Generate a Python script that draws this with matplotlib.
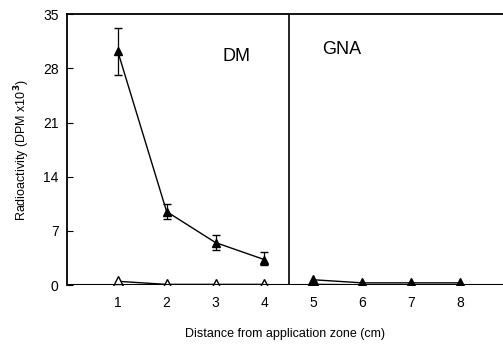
import matplotlib
matplotlib.use("Agg")
import matplotlib.pyplot as plt

# DM zone (1-4 cm), treated series (filled) and control (open)
dm_x = [1, 2, 3, 4]
dm_filled = [30.2, 9.5, 5.5, 3.3]
dm_err_hi = [3.0, 1.0, 1.0, 1.0]
dm_err_lo = [3.0, 1.0, 0.9, 0.7]
dm_open = [0.5, 0.1, 0.1, 0.1]

# GNA zone (5-8 cm)
gna_x = [5, 6, 7, 8]
gna_filled = [0.7, 0.3, 0.3, 0.3]
gna_open = [0.1, 0.05, 0.05, 0.05]

yticks = [0, 7, 14, 21, 28, 35]
xticks = [1, 2, 3, 4, 5, 6, 7, 8]

plt.rcParams["font.family"] = ["Liberation Sans", "DejaVu Sans"]

fig = plt.figure(figsize=(5.03, 3.44), dpi=100)
ax = fig.add_axes([0.133, 0.171, 0.867, 0.788])

ax.errorbar(dm_x, dm_filled, yerr=[dm_err_lo, dm_err_hi], color="black", lw=1.0,
            marker="^", ms=6, mfc="black", mec="black", capsize=3, elinewidth=0.9)
ax.plot(dm_x, dm_open, color="black", lw=1.0, marker="^", ms=7, mfc="white", mec="black")
ax.plot(gna_x, gna_open, color="black", lw=1.0)
ax.plot(gna_x, gna_filled, color="black", lw=1.0, marker="^", ms=7, mfc="black", mec="black")

ax.axvline(4.5, color="black", lw=1.2)
ax.axhline(0, color="black", lw=1.5)

ax.text(3.15, 29.0, "DM", fontsize=13)
ax.text(5.18, 29.8, "GNA", fontsize=13)

ax.set_xlim(-0.04, 8.88)
ax.set_ylim(0, 35)
ax.set_yticks(yticks)
ax.set_xticks(xticks)
ax.tick_params(axis="y", direction="in", length=4, labelsize=10, pad=6)
ax.tick_params(axis="x", length=0, labelsize=10, pad=8)

for s in ["right", "bottom"]:
    ax.spines[s].set_visible(False)
ax.spines["left"].set_linewidth(1.3)
ax.spines["top"].set_linewidth(1.3)

ax.set_ylabel("Radioactivity (DPM x10$^\\mathbf{3}$)", fontsize=9, labelpad=8)
ax.set_xlabel("Distance from application zone (cm)", fontsize=9, labelpad=13)

fig.savefig("out.png", dpi=100)
